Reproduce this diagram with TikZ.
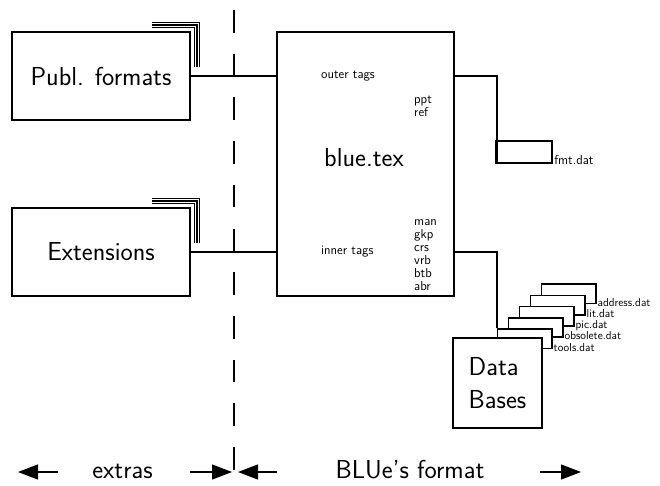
\documentclass[tikz,border=0pt]{standalone}
\usetikzlibrary{arrows.meta}
\begin{document}
\begin{tikzpicture}[x=1pt,y=-1pt,
  box/.style={draw,line width=1.8pt,fill=white,inner sep=0pt},
  filebox/.style={draw,line width=1.6pt,fill=white,minimum width=54.4pt,minimum height=19.3pt,inner sep=0pt},
  big/.style={font=\sffamily\fontsize{26}{33}\selectfont,inner sep=0pt},
  small/.style={font=\sffamily\fontsize{13}{13}\selectfont,inner sep=0pt},
  tiny/.style={font=\sffamily\fontsize{11.5}{11.5}\selectfont,inner sep=0pt},
  wire/.style={line width=2pt},
  shade/.style={line width=1.3pt},
  dimarrow/.style={line width=1.2pt,-{Triangle[length=20pt,width=15pt]}}]
\useasboundingbox (0,0) rectangle (660,486);
% divider between extras and format
\draw[line width=2pt,dash pattern=on 22.7pt off 21pt] (234,10) -- (234,470);
% left boxes
\node[box,big,minimum width=178pt,minimum height=88pt] (publ) at (101,76) {Publ. formats};
\node[box,big,minimum width=178pt,minimum height=88pt] (ext) at (101,252) {Extensions};
\foreach \n in {publ,ext}
  \foreach \d in {3.5,6,8.5}
    \draw[shade] ([xshift=-39pt,yshift=\d pt]\n.north east) -| ([xshift=\d pt,yshift=-36pt]\n.north east);
% main file
\node[box,minimum width=177pt,minimum height=264pt] (blue) at (365.5,164) {};
\node[big] (bluetitle) at (364,158) {blue.tex};
\node[small,anchor=base west] (outer) at (321,78.3) {outer tags};
\node[small,anchor=base west] (inner) at (321,254) {inner tags};
\foreach \t [count=\i] in {ppt,ref}
  \node[small,anchor=base west] (tag\t) at (414,{90.4+12.9*\i}) {\t};
\foreach \t [count=\i] in {man,gkp,crs,vrb,btb,abr}
  \node[small,anchor=base west] (tag\t) at (414,{212.8+12.9*\i}) {\t};
\draw[wire] (publ.east) -- (publ.east -| blue.west);
\draw[wire] (ext.east) -- (ext.east -| blue.west);
% format file
\node[box,minimum width=56.3pt,minimum height=22.6pt] (fmt) at (524,152) {};
\node[small,anchor=base west] (fmtname) at ([xshift=1pt]fmt.south east) {fmt.dat};
\draw[wire] (blue.east |- publ.east) -| ([xshift=1.6pt]fmt.south west);
% data files
\foreach \f [count=\i] in {address,lit,pic,obsolete,tools} {
  \node[filebox] (\f) at ({579.5-11*\i},{282.7+11.2*\i}) {};
  \node[tiny,anchor=base west] (\f name) at ([xshift=1pt,yshift=-2pt]\f.south east) {\f.dat};
}
\draw[wire] (blue.east |- ext.east) -| (tools.north west);
\node[box,big,align=left,minimum width=89pt,minimum height=90pt] (db) at (497.5,383) {Data\\Bases};
% bottom labels
\node[big,anchor=base] (extras) at (122.5,478) {extras};
\node[big,anchor=base] (blueformat) at (410,478) {BLUe's format};
\draw[dimarrow] ([xshift=-64.5pt,yshift=6pt]extras.base) -- ++(-40,0);
\draw[dimarrow] ([xshift=67.5pt,yshift=6pt]extras.base) -- ++(42,0);
\draw[dimarrow] ([xshift=-133pt,yshift=6pt]blueformat.base) -- ++(-39,0);
\draw[dimarrow] ([xshift=130pt,yshift=6pt]blueformat.base) -- ++(41,0);
\end{tikzpicture}
\end{document}
